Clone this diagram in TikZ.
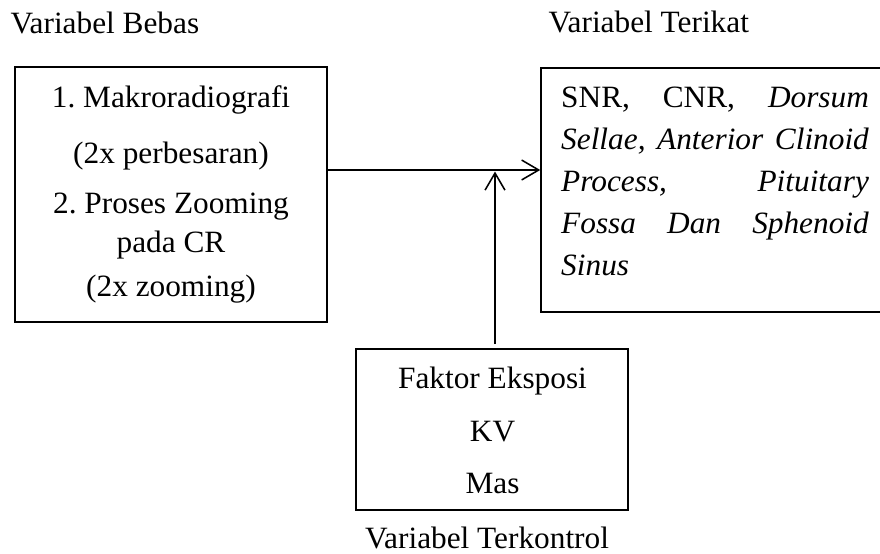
\documentclass[tikz,border=0pt]{standalone}
\usepackage{fontspec}
\setmainfont{Liberation Serif}
\usepackage{graphicx}
\usetikzlibrary{arrows.meta,fit}
\frenchspacing
\newcommand\hsxbox[1]{\scalebox{1.01}[1]{#1}}
\tikzset{
  boxframe/.style={draw, line width=0.6pt, rectangle, inner sep=0pt},
  txt/.style={inner sep=0pt, font=\fontsize{12pt}{14.4pt}\selectfont\frenchspacing},
  conn/.style={line width=0.6pt, -{Straight Barb[length=6.6pt,width=7.7pt]}}
}
\begin{document}
\begin{tikzpicture}[x=0.387pt,y=-0.387pt]
\clip (0,0) rectangle (880,554);
\fill[white] (0,0) rectangle (880,554);
% titles
\node[txt, anchor=base west] (tBebas) at (10,33.3) {\hsxbox{Variabel Bebas}};
\node[txt, anchor=base west] (tTerikat) at (548,33) {\hsxbox{Variabel Terikat}};
\node[txt, anchor=base] (tKontrol) at (487,548.3) {\hsxbox{Variabel Terkontrol}};
% boxes
\node[boxframe, fit={(15,67) (327,322)}] (bebas) {};
\node[boxframe, fit={(541,68) (884,312)}] (terikat) {};
\node[boxframe, fit={(356,349) (628,510)}] (kontrol) {};
% box texts
\node[txt, anchor=base] (bebasT) at (171,107.3) {\hsxbox{\begin{tabular}[t]{@{}c@{}}
1. Makroradiografi\\[7.3pt]
(2x perbesaran)\\[5.0pt]
2. Proses Zooming\\[0.5pt]
pada CR\\[3.0pt]
(2x zooming)
\end{tabular}}};
\node[txt, anchor=base west] (terikatT) at (560.7,107.3) {\hsxbox{\parbox[t]{117.9pt}{\baselineskip=16.25pt
\makebox[\linewidth][s]{SNR, CNR, \textit{Dorsum}}\par
\makebox[\linewidth][s]{\textit{Sellae, Anterior Clinoid}}\par
\makebox[\linewidth][s]{\textit{Process, Pituitary}}\par
\makebox[\linewidth][s]{\textit{Fossa Dan Sphenoid}}\par
\textit{Sinus}}}};
\node[txt, anchor=base] (kontrolT) at (492.5,388.3) {\hsxbox{\begin{tabular}[t]{@{}c@{}}
Faktor Eksposi\\[6.3pt]
KV\\[5.6pt]
Mas
\end{tabular}}};
% connectors
\coordinate (join) at (495,170);
\draw[conn] (bebas.east |- join) -- (terikat.west |- join);
\draw[conn, shorten <=1.55pt, shorten >=0.6pt] (kontrol.north -| join) -- (join);
\end{tikzpicture}
\end{document}
